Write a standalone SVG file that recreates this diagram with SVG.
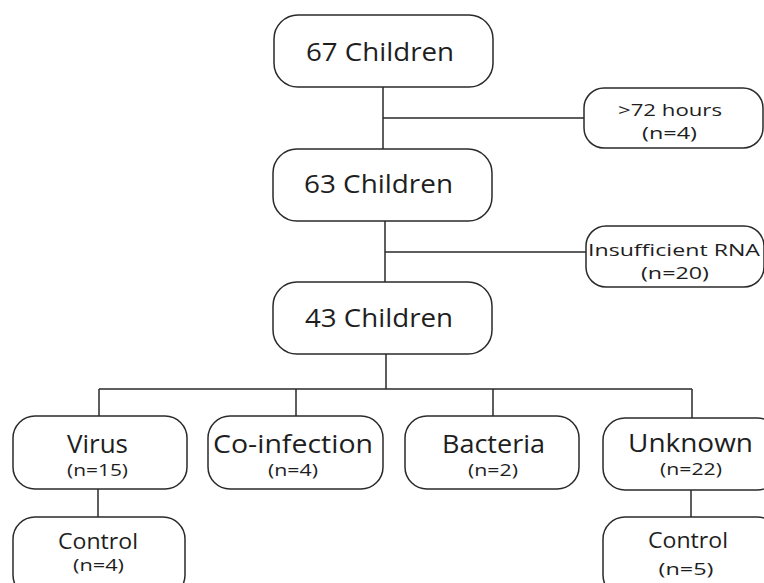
<svg xmlns="http://www.w3.org/2000/svg" width="764" height="583" viewBox="0 0 764 583">
<style>
.box{fill:#fff;stroke:#2a2a2a;stroke-width:1.5}
.ln{stroke:#2a2a2a;stroke-width:1.5;fill:none}
text{font-family:"Open Sans","Noto Sans",sans-serif;fill:#1e1e1e;text-anchor:middle}
.big{font-size:25px}
.mid{font-size:25px}
.ctl{font-size:22px}
.sm{font-size:17px}
.xs{font-size:16.5px}
</style>
<rect width="764" height="583" fill="#fff"/>
<g id="connectors">
<path class="ln" d="M383 87V149M383 118H584"/>
<path class="ln" d="M385 221V282M385 252H586"/>
<path class="ln" d="M386 354V389M99 389H692M99 389V416M296 389V416M493 389V416M692 389V418"/>
<path class="ln" d="M98 489V517M691 490V517"/>
</g>
<g id="n67"><rect class="box" x="274" y="15" width="219" height="72" rx="24"/><text class="big" x="380" y="61" textLength="148" lengthAdjust="spacingAndGlyphs">67 Children</text></g>
<g id="n72h"><rect class="box" x="584" y="88" width="179" height="60" rx="20"/><text class="sm" x="670" y="116" textLength="104" lengthAdjust="spacingAndGlyphs">&gt;72 hours</text><text class="sm" x="669.5" y="139" textLength="55" lengthAdjust="spacingAndGlyphs">(n=4)</text></g>
<g id="n63"><rect class="box" x="273" y="149" width="219" height="72" rx="24"/><text class="big" x="378.5" y="193" textLength="149" lengthAdjust="spacingAndGlyphs">63 Children</text></g>
<g id="nrna"><rect class="box" x="586" y="226" width="178" height="61" rx="20"/><text class="sm" x="674" y="256" textLength="172" lengthAdjust="spacingAndGlyphs">Insufficient RNA</text><text class="sm" x="675" y="279" textLength="68" lengthAdjust="spacingAndGlyphs">(n=20)</text></g>
<g id="n43"><rect class="box" x="273" y="282" width="219" height="72" rx="24"/><text class="big" x="379" y="327" textLength="148" lengthAdjust="spacingAndGlyphs">43 Children</text></g>
<g id="virus"><rect class="box" x="13" y="416" width="174" height="73" rx="22"/><text class="mid" x="97.5" y="453" textLength="61" lengthAdjust="spacingAndGlyphs">Virus</text><text class="xs" x="97.5" y="476" textLength="61" lengthAdjust="spacingAndGlyphs">(n=15)</text></g>
<g id="coinf"><rect class="box" x="208" y="416" width="175" height="73" rx="22"/><text class="mid" x="293" y="453" textLength="160" lengthAdjust="spacingAndGlyphs">Co-infection</text><text class="xs" x="293" y="476" textLength="50" lengthAdjust="spacingAndGlyphs">(n=4)</text></g>
<g id="bact"><rect class="box" x="405" y="416" width="174" height="73" rx="22"/><text class="mid" x="493.5" y="453" textLength="103" lengthAdjust="spacingAndGlyphs">Bacteria</text><text class="xs" x="493" y="476" textLength="50" lengthAdjust="spacingAndGlyphs">(n=2)</text></g>
<g id="unknown"><rect class="box" x="603" y="418" width="176" height="72" rx="22"/><text class="mid" x="690.5" y="452" textLength="125" lengthAdjust="spacingAndGlyphs">Unknown</text><text class="xs" x="691" y="475" textLength="62" lengthAdjust="spacingAndGlyphs">(n=22)</text></g>
<g id="ctrl1"><rect class="box" x="13" y="517" width="172" height="80" rx="22"/><text class="ctl" x="98" y="549" textLength="80" lengthAdjust="spacingAndGlyphs">Control</text><text class="xs" x="98.5" y="571" textLength="51" lengthAdjust="spacingAndGlyphs">(n=4)</text></g>
<g id="ctrl2"><rect class="box" x="603" y="517" width="176" height="80" rx="22"/><text class="ctl" x="688" y="548" textLength="80" lengthAdjust="spacingAndGlyphs">Control</text><text class="xs" x="686" y="575" textLength="55" lengthAdjust="spacingAndGlyphs">(n=5)</text></g>
</svg>
